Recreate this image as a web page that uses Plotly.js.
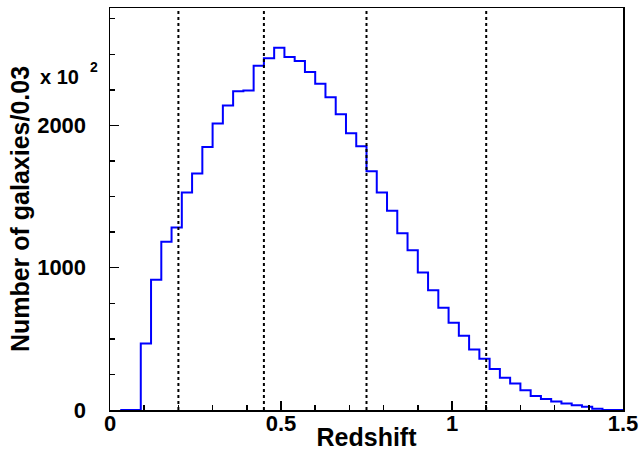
<!DOCTYPE html>
<html>
<head>
<meta charset="utf-8">
<script src="https://cdn.plot.ly/plotly-3.0.1.min.js"></script>
<style>
html,body{margin:0;padding:0;background:#fff;}
#chart{width:639px;height:451px;}
</style>
</head>
<body>
<div id="chart"></div>
<script>
// Bin left edges (width 0.03) and counts (in units of 10^2 as labelled on the axis)
const binLeft = [0.03,0.06,0.09,0.12,0.15,0.18,0.21,0.24,0.27,0.30,0.33,0.36,0.39,0.42,0.45,0.48,0.51,0.54,0.57,0.60,0.63,0.66,0.69,0.72,0.75,0.78,0.81,0.84,0.87,0.90,0.93,0.96,0.99,1.02,1.05,1.08,1.11,1.14,1.17,1.20,1.23,1.26,1.29,1.32,1.35,1.38,1.41,1.44,1.47];
const counts  = [0,0,467,916,1182,1283,1528,1662,1849,2013,2139,2240,2245,2420,2471,2546,2481,2453,2375,2293,2198,2079,1945,1854,1678,1528,1400,1242,1123,967,841,719,614,521,425,361,289,226,186,139,99,78,59,46,34,22,8,0,0];
const binWidth = 0.03;
const cutLines = [0.2, 0.45, 0.75, 1.1];
const yTicks = [0, 1000, 2000];
const xTicks = [0, 0.5, 1, 1.5];

// step histogram: append right edge of the last bin
const xs = binLeft.concat([binLeft[binLeft.length-1] + binWidth]);
const ys = counts.concat([counts[counts.length-1]]);

const FAM = 'Liberation Sans, Arial, sans-serif';
const tickFont = {family: FAM, size: 22, color: '#000', weight: 'bold'};
const titleFont = {family: FAM, size: 25, color: '#000', weight: 'bold'};

const trace = {
  x: xs, y: ys, type: 'scatter', mode: 'lines',
  line: {shape: 'hv', color: '#0000ff', width: 2},
  hoverinfo: 'skip'
};

const shapes = cutLines.map(v => ({
  type: 'line', xref: 'x', yref: 'paper', x0: v, x1: v, y0: 0, y1: 1,
  line: {color: '#000', width: 2, dash: 'dot'}, layer: 'above'
}));

const layout = {
  width: 639, height: 451,
  margin: {l: 110, r: 16, t: 8, b: 41},
  paper_bgcolor: '#fff', plot_bgcolor: '#fff',
  showlegend: false,
  xaxis: {
    range: [0, 1.5], tickvals: xTicks, ticktext: ['0','0.5','1','1.5'],
    ticks: 'inside', ticklen: 9, tickwidth: 1.5, tickcolor: '#000',
    minor: {dtick: 0.1, tick0: 0, ticks: 'inside', ticklen: 5, tickwidth: 1.5, tickcolor: '#000'},
    showline: true, linecolor: '#000', linewidth: 1.5, mirror: true,
    showgrid: false, zeroline: false,
    tickfont: tickFont, ticklabelstandoff: -7,
    title: {text: 'Redshift', font: titleFont, standoff: 0}
  },
  yaxis: {
    range: [0, 2825], tickvals: yTicks, ticktext: ['0','1000','2000'],
    ticks: 'inside', ticklen: 9, tickwidth: 1.5, tickcolor: '#000',
    minor: {dtick: 250, tick0: 0, ticks: 'inside', ticklen: 5, tickwidth: 1.5, tickcolor: '#000'},
    showline: true, linecolor: '#000', linewidth: 1.5, mirror: true,
    showgrid: false, zeroline: false,
    tickfont: tickFont, ticklabelstandoff: 18,
    title: {text: 'Number of galaxies/0.03', font: titleFont, standoff: 0}
  },
  shapes: shapes,
  annotations: [
    {xref: 'paper', yref: 'paper', x: -0.057, y: 0.828, xanchor: 'right', yanchor: 'middle',
     text: 'x 10', showarrow: false, font: {family: FAM, size: 20, color: '#000', weight: 'bold'}},
    {xref: 'paper', yref: 'paper', x: -0.019, y: 0.852, xanchor: 'right', yanchor: 'middle',
     text: '2', showarrow: false, font: {family: FAM, size: 14, color: '#000', weight: 'bold'}}
  ]
};

Plotly.newPlot('chart', [trace], layout, {displayModeBar: false, staticPlot: true});
</script>
</body>
</html>
